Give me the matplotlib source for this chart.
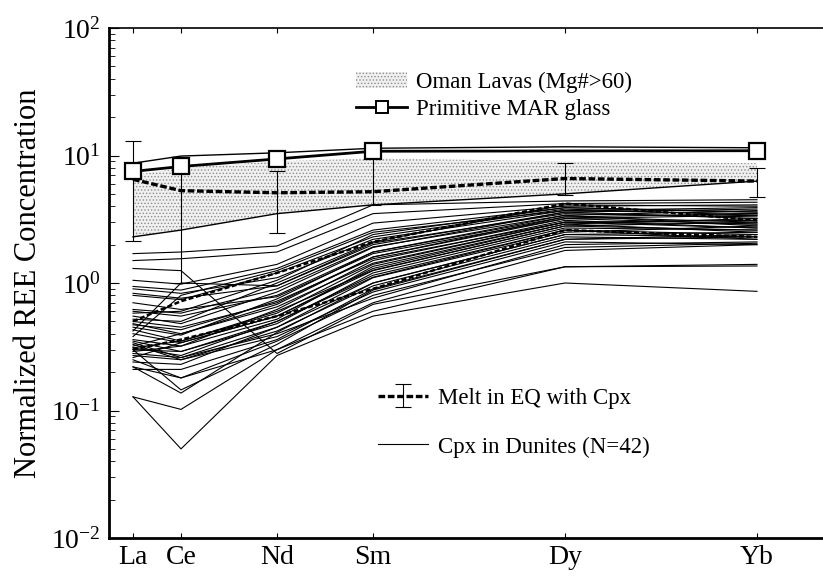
"""
REE patterns of clinopyroxene in dunites, compared with Oman lavas and MAR glass.
"""

import numpy as np
import matplotlib
matplotlib.use('Agg')
import matplotlib.pyplot as plt
from matplotlib.patches import Patch
from matplotlib.lines import Line2D


# Settings
plt.rcParams['font.family'] = 'Liberation Serif'
plt.rcParams['mathtext.fontset'] = 'custom'
plt.rcParams['mathtext.rm'] = 'Liberation Serif'
plt.rcParams['mathtext.it'] = 'Liberation Serif:italic'
plt.rcParams['hatch.linewidth'] = 0.6


elements = ['La', 'Ce', 'Nd', 'Sm', 'Dy', 'Yb']
atomic_no = [57, 58, 60, 62, 66, 70]

# Oman lavas (Mg# > 60), envelope
oman_hi = [7.0, 8.0, 9.0, 9.5, 9.0, 8.7]
oman_lo = [2.3, 2.6, 3.5, 4.1, 5.0, 6.3]
oman_max = [8.7, 9.9, 10.5, 11.4, 11.7, 11.5]

# Primitive MAR glass (no Dy)
mar_elements = ['La', 'Ce', 'Nd', 'Sm', 'Yb']
mar_glass = [7.5, 8.2, 9.4, 10.8, 10.9]

# Melt in equilibrium with cpx, mean and range
melt_mean = [6.5, 5.3, 5.1, 5.2, 6.6, 6.3]
melt_hi = [13.1, 9.8, 7.6, 10.9, 8.7, 8.0]
melt_lo = [2.15, 1.0, 2.45, 4.1, 4.9, 4.7]

# Cpx in dunites, La Ce Nd Sm Dy Yb
cpx_1 = [1.70, 1.75, 1.95, 4.10, 4.40, 4.50]
cpx_2 = [1.50, 1.55, 1.75, 3.50, 4.20, 4.30]
cpx_3 = [1.30, 1.25, 0.28, 0.68, 1.34, 1.36]
cpx_4 = [1.05, 0.98, 1.40, 2.95, 4.00, 4.10]
cpx_5 = [0.94, 0.88, 1.30, 2.60, 3.90, 3.60]
cpx_6 = [0.90, 0.83, 1.10, 2.20, 3.70, 3.90]
cpx_7 = [0.83, 0.76, 0.95, 2.06, 3.50, 3.30]
cpx_8 = [0.80, 0.74, 1.20, 2.30, 3.80, 3.40]
cpx_9 = [0.62, 0.58, 0.90, 1.92, 3.40, 3.70]
cpx_10 = [0.60, 0.55, 0.80, 1.75, 3.30, 3.00]
cpx_11 = [0.55, 0.48, 0.85, 1.90, 3.60, 3.20]
cpx_12 = [0.52, 0.50, 1.00, 2.10, 4.10, 4.00]
cpx_13 = [0.50, 0.45, 0.70, 1.60, 3.20, 2.90]
cpx_14 = [0.48, 0.40, 0.65, 1.43, 3.00, 3.10]
cpx_15 = [0.45, 0.39, 0.75, 1.75, 3.40, 2.80]
cpx_16 = [0.43, 0.35, 0.60, 1.26, 2.80, 2.60]
cpx_17 = [0.40, 0.34, 0.55, 1.30, 2.90, 3.20]
cpx_18 = [0.36, 0.32, 0.62, 1.50, 3.10, 2.70]
cpx_19 = [0.35, 0.29, 0.50, 1.11, 2.60, 2.40]
cpx_20 = [0.34, 0.26, 0.45, 1.00, 2.40, 2.50]
cpx_21 = [0.33, 0.25, 0.42, 0.95, 2.30, 2.20]
cpx_22 = [0.32, 0.40, 0.68, 1.60, 3.30, 3.50]
cpx_23 = [0.31, 0.35, 0.58, 1.40, 3.00, 2.90]
cpx_24 = [0.30, 0.145, 0.33, 0.88, 2.20, 2.30]
cpx_25 = [0.30, 0.29, 0.48, 1.20, 2.70, 2.60]
cpx_26 = [0.29, 0.32, 0.52, 1.35, 2.90, 2.50]
cpx_27 = [0.28, 0.26, 0.40, 0.76, 2.00, 2.10]
cpx_28 = [0.27, 0.25, 0.38, 0.85, 2.10, 2.00]
cpx_29 = [0.26, 0.34, 0.55, 1.25, 2.80, 3.00]
cpx_30 = [0.25, 0.18, 0.35, 0.80, 1.90, 2.05]
cpx_31 = [0.24, 0.23, 0.45, 1.10, 2.50, 2.80]
cpx_32 = [0.22, 0.18, 0.30, 0.70, 1.80, 2.00]
cpx_33 = [0.22, 0.137, 0.41, 1.00, 2.40, 2.30]
cpx_34 = [0.21, 0.21, 0.36, 0.90, 2.20, 2.40]
cpx_35 = [0.128, 0.050, 0.27, 0.55, 1.00, 0.86]
cpx_36 = [0.128, 0.102, 0.30, 0.60, 1.34, 1.40]
cpx_37 = [0.38, 0.80, 1.25, 2.50, 3.70, 3.50]
cpx_38 = [0.42, 1.00, 0.95, 2.00, 3.60, 3.80]
cpx_39 = [0.58, 0.60, 1.05, 2.40, 3.90, 3.60]
cpx_40 = [0.70, 0.62, 0.78, 1.70, 3.20, 3.40]
cpx_41 = [0.47, 0.43, 0.72, 1.55, 3.00, 2.70]
cpx_42 = [0.31, 0.27, 0.50, 1.15, 2.60, 2.20]

cpx_all = [cpx_1, cpx_2, cpx_3, cpx_4, cpx_5, cpx_6, cpx_7, cpx_8, cpx_9,
           cpx_10, cpx_11, cpx_12, cpx_13, cpx_14, cpx_15, cpx_16, cpx_17,
           cpx_18, cpx_19, cpx_20, cpx_21, cpx_22, cpx_23, cpx_24, cpx_25,
           cpx_26, cpx_27, cpx_28, cpx_29, cpx_30, cpx_31, cpx_32, cpx_33,
           cpx_34, cpx_35, cpx_36, cpx_37, cpx_38, cpx_39, cpx_40, cpx_41,
           cpx_42]

# two cpx patterns drawn heavier
cpx_bold_a = [0.50, 0.72, 1.20, 2.10, 4.20, 3.10]
cpx_bold_b = [0.30, 0.36, 0.55, 0.90, 2.60, 2.30]


def graph_ree():
    """
    Spider diagram, chondrite normalized
    """
    fig = plt.figure(figsize = (8.23, 5.82), dpi = 100)
    ax = fig.add_axes([109 / 823, 44 / 582, 720 / 823, 510 / 582])
    x = np.array(atomic_no)
    x_mar = np.array([atomic_no[elements.index(e)] for e in mar_elements])

    # Oman lavas band
    ax.fill_between(x, oman_lo, oman_hi, facecolor = '#f0f0f0',
                    edgecolor = '#8c8c8c', hatch = '.....', linewidth = 0,
                    zorder = 1)
    ax.plot(x, oman_lo, 'k-', lw = 1.0, zorder = 2)
    ax.plot(x, oman_max, 'k-', lw = 1.0, zorder = 2)

    # Cpx in dunites
    for row in cpx_all:
        ax.plot(x, row, 'k-', lw = 0.8, zorder = 3)
    for row in [cpx_bold_a, cpx_bold_b]:
        ax.plot(x, row, color = 'k', lw = 1.8, ls = (0, (2, 1)), zorder = 3)

    # Melt in equilibrium with cpx
    yerr = [np.array(melt_mean) - np.array(melt_lo),
            np.array(melt_hi) - np.array(melt_mean)]
    melt = ax.errorbar(x, melt_mean, yerr = yerr, color = 'k', lw = 2.4,
                       ls = (0, (2, 0.8)), elinewidth = 0.8, capsize = 6,
                       capthick = 0.8, zorder = 4)

    # MAR glass
    ax.plot(x_mar, mar_glass, 'k-', lw = 2.0, marker = 's', markersize = 11,
            mfc = 'white', mec = 'k', mew = 1.6, zorder = 5)

    ax.set_yscale('log')
    ax.set_ylim(1e-2, 1e2)
    ax.set_xlim(56.5, 71.5)
    ax.set_xticks(x)
    ax.set_xticklabels(elements)
    ax.set_ylabel('Normalized REE Concentration', fontsize = 22, labelpad = 6)

    ax.tick_params(axis = 'both', which = 'both', direction = 'in',
                   labelsize = 20, top = True, right = False)
    ax.tick_params(axis = 'x', which = 'minor', top = False, bottom = False)
    ax.tick_params(axis = 'x', pad = 5)
    ax.tick_params(axis = 'y', which = 'major', length = 7, pad = 6)
    ax.tick_params(axis = 'y', which = 'minor', length = 4)
    ax.spines['left'].set_linewidth(2.0)
    ax.spines['bottom'].set_linewidth(2.0)
    ax.spines['top'].set_linewidth(1.2)
    ax.spines['right'].set_visible(False)

    # Legends
    h1 = [Patch(facecolor = '#f0f0f0', edgecolor = '#8c8c8c', hatch = '.....',
                linewidth = 0),
          Line2D([], [], color = 'k', lw = 2.0, marker = 's', markersize = 9,
                 mfc = 'white', mec = 'k', mew = 1.4)]
    leg1 = ax.legend(h1, ['Oman Lavas (Mg#>60)', 'Primitive MAR glass'],
                     loc = 'upper left', bbox_to_anchor = (0.315, 0.955),
                     frameon = False, fontsize = 16.5, handlelength = 2.2,
                     handletextpad = 0.4, labelspacing = 0.25)
    ax.add_artist(leg1)

    h2 = [melt, Line2D([], [], color = 'k', lw = 0.8)]
    ax.legend(h2, ['Melt in EQ with Cpx', 'Cpx in Dunites (N=42)'],
              loc = 'upper left', bbox_to_anchor = (0.345, 0.335),
              frameon = False, fontsize = 16.5, handlelength = 2.2,
              handletextpad = 0.4, labelspacing = 1.2)

    fig.savefig('out.png', dpi = 100)
    return


#====================
if __name__ == '__main__':
    graph_ree()
